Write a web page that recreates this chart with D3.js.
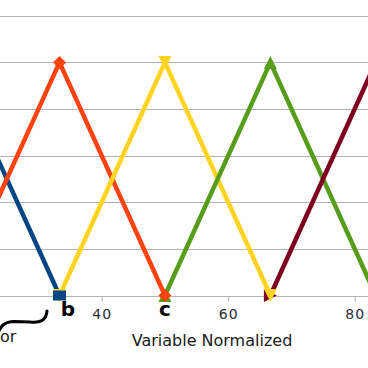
<!DOCTYPE html>
<html>
<head>
<meta charset="utf-8">
<script src="https://cdn.jsdelivr.net/npm/d3@7"></script>
<style>
  body { margin: 0; background: #fff; }
  svg { display: block; }
</style>
</head>
<body>
<div id="chart"></div>
<script>
// membership functions, x in normalized variable units
const seriesNames = ["A", "B", "C", "D", "E"];
const seriesX = [
  [0, 16.67, 33.33],
  [16.67, 33.33, 50],
  [33.33, 50, 66.67],
  [50, 66.67, 83.33],
  [66.67, 83.33, 100]
];
const seriesY = [
  [0, 1, 0],
  [0, 1, 0],
  [0, 1, 0],
  [0, 1, 0],
  [0, 1, 0]
];
const colors = ["#004586", "#ff420e", "#ffd320", "#579d1c", "#7e0021"];
const gridValues = [0, 0.2, 0.4, 0.6, 0.8, 1, 1.2];
const tickValues = [40, 60, 80];
const pointLabels = ["b", "c"];
const pointLabelX = [33.33, 50];
const xTitle = "Variable Normalized";

let width = 368;
let height = 368;

let svg = d3
  .select("#chart")
  .append("svg")
  .attr("width", width)
  .attr("height", height);

// chart is cropped: scale ranges extend past the window
let x = d3.scaleLinear().domain([0, 100]).range([-151.3, 481.2]);
let y = d3.scaleLinear().domain([0, 1.2]).range([295.5, 15.8]);

svg
  .append("g")
  .selectAll("line")
  .data(gridValues)
  .join("line")
  .attr("x1", 0)
  .attr("x2", width)
  .attr("y1", (d) => Math.round(y(d)) + 0.5)
  .attr("y2", (d) => Math.round(y(d)) + 0.5)
  .attr("stroke", "#b3b3b3")
  .attr("stroke-width", 1);

let axis = svg
  .append("g")
  .attr("transform", "translate(0," + (Math.round(y(0)) + 0.5) + ")")
  .call(d3.axisBottom(x).tickValues(tickValues).tickSize(5).tickPadding(8));
axis.select(".domain").remove();
axis.selectAll(".tick line").attr("stroke", "#b3b3b3");
axis
  .selectAll(".tick text")
  .attr("fill", "#2b2b3a")
  .attr("font-family", "DejaVu Sans")
  .attr("font-size", "14px")
  .attr("letter-spacing", "1px");

let line = d3
  .line()
  .x((d) => x(d[0]))
  .y((d) => y(d[1]));

let data = seriesNames.map((name, i) => ({
  name: name,
  color: colors[i],
  points: seriesX[i].map((v, j) => [v, seriesY[i][j]])
}));

svg
  .append("g")
  .selectAll("path")
  .data(data)
  .join("path")
  .attr("d", (d) => line(d.points))
  .attr("fill", "none")
  .attr("stroke", (d) => d.color)
  .attr("stroke-width", 4.5)
  .attr("stroke-linejoin", "round");

// marker shapes in LibreOffice order: square, diamond, down, up, right
function markerPath(i) {
  let s = 6.5;
  if (i == 0) return `M${-s},${-5}H${s}V${5}H${-s}Z`;
  if (i == 1) return `M0,${-s}L${s},0L0,${s}L${-s},0Z`;
  if (i == 2) return `M${-s},${-s}H${s}L0,${s}Z`;
  if (i == 3) return `M${-s},${s}H${s}L0,${-s}Z`;
  return `M${-s},${-s}L${s},0L${-s},${s}Z`;
}

// later series drawn first so earlier markers sit on top
data
  .slice()
  .reverse()
  .forEach(function (d) {
    let i = seriesNames.indexOf(d.name);
    svg
      .append("g")
      .selectAll("path")
      .data(d.points)
      .join("path")
      .attr("transform", (p) => "translate(" + x(p[0]) + "," + y(p[1]) + ")")
      .attr("d", markerPath(i))
      .attr("fill", d.color);
  });

svg
  .append("g")
  .selectAll("text")
  .data(pointLabels)
  .join("text")
  .text((d) => d)
  .attr("x", (d, i) => x(pointLabelX[i]) + (i == 0 ? 8.5 : 0))
  .attr("y", 316)
  .attr("text-anchor", "middle")
  .attr("font-family", "DejaVu Sans")
  .attr("font-size", "20px")
  .attr("font-weight", "bold")
  .attr("fill", "#000");

svg
  .append("text")
  .text(xTitle)
  .attr("x", 212)
  .attr("y", 346)
  .attr("text-anchor", "middle")
  .attr("font-family", "DejaVu Sans")
  .attr("font-size", "16px")
  .attr("fill", "#1a1a1a");

// left edge: end of the y axis title and a brace drawn on top
svg
  .append("text")
  .text("or")
  .attr("x", 0)
  .attr("y", 342)
  .attr("font-family", "DejaVu Sans")
  .attr("font-size", "16px")
  .attr("fill", "#1a1a1a");

svg
  .append("path")
  .attr("d", "M-2,333 C1,325 5,322 14,321.5 L30,322 C40,323 46,321 47,311")
  .attr("fill", "none")
  .attr("stroke", "#000")
  .attr("stroke-width", 3)
  .attr("stroke-linecap", "round");
</script>
</body>
</html>
